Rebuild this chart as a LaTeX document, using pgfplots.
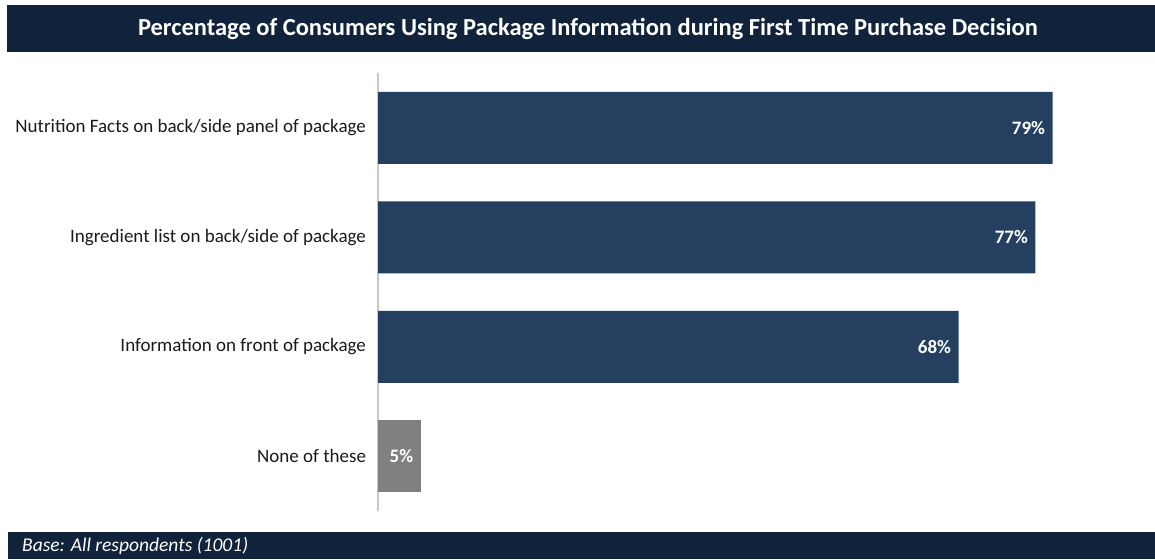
\documentclass[border=0pt]{standalone}
\usepackage{fontspec}
\setmainfont{Carlito}
\usepackage{pgfplots}
\pgfplotsset{compat=1.18}
\definecolor{navybar}{HTML}{243F60}
\definecolor{headbar}{HTML}{10233B}
\definecolor{graybar}{HTML}{808080}
\definecolor{axisgray}{HTML}{C8C8C8}
\definecolor{labeltext}{HTML}{1A1A1A}

\begin{document}
\begin{tikzpicture}[x=1pt,y=1pt]
\useasboundingbox (0,0) rectangle (1155,559);
% title and footer bands
\fill[headbar] (7,507) rectangle (1155,554);
\node[text=white,font=\fontsize{24.5}{28}\selectfont\bfseries] at (588,530.5)
  {Percentage of Consumers Using Package Information during First Time Purchase Decision};
\fill[headbar] (8,0) rectangle (1155,27);
\node[text=white,anchor=west,inner sep=0pt,font=\fontsize{19.5}{22}\selectfont\itshape] at (22,13)
  {Base: All respondents (1001)};

\begin{axis}[
  at={(378pt,48pt)},anchor=south west,
  scale only axis,width=777pt,height=438pt,
  xbar,bar width=72pt,bar shift=0pt,
  xmin=0,xmax=91,ymin=-0.5,ymax=3.5,y dir=reverse,
  axis x line=none,axis y line*=left,
  y axis line style={axisgray,line width=1.2pt,-},
  ytick={0,1,2,3},
  yticklabels={Nutrition Facts on back/side panel of package,
    Ingredient list on back/side of package,
    Information on front of package,None of these},
  yticklabel style={font=\fontsize{19}{22}\selectfont,text=labeltext,xshift=-8.5pt},
  major tick length=0pt,
  /pgf/number format/assume math mode=true,
  point meta=x,
  nodes near coords={\pgfmathprintnumber{\pgfplotspointmeta}\%},
  nodes near coords style={anchor=east,xshift=-4pt,text=white,
    font=\fontsize{19}{22}\selectfont\bfseries},
  clip=false
]
\addplot[fill=navybar,draw=none] coordinates {(79,0) (77,1) (68,2)};
\addplot[fill=graybar,draw=none] coordinates {(5,3)};
\end{axis}
\end{tikzpicture}
\end{document}
